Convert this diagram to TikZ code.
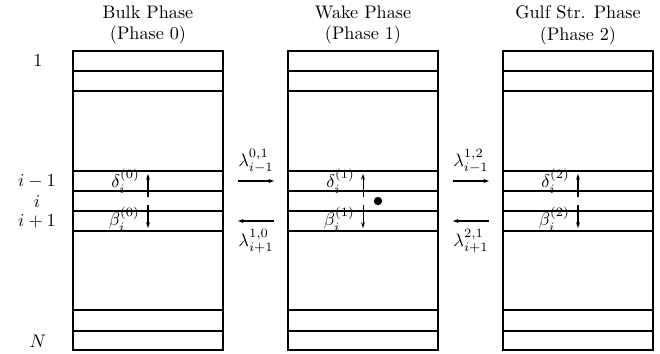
\documentclass[tikz,border=0pt]{standalone}
\usetikzlibrary{arrows.meta}
\begin{document}
\begin{tikzpicture}[x=0.55pt,y=-0.55pt,
  boxline/.style={line width=0.75pt},
  harrow/.style={-{Stealth[length=3pt,width=2.2pt]}, line width=0.7pt},
  varrow/.style={-{Stealth[length=3.2pt,width=2.2pt]}, line width=0.8pt},
  varrowthin/.style={-{Stealth[length=3.2pt,width=2.2pt]}, line width=0.4pt},
  title/.style={align=center, inner sep=0pt},
  lbl/.style={inner sep=0pt},
  rate/.style={inner sep=0pt},
  dotstyle/.style={circle, fill=black, minimum size=4.6pt, inner sep=0pt}]
\useasboundingbox (0,0) rectangle (660,353);

% boxes
\foreach \x/\n in {73/0,288/1,503/2}{
  \draw[boxline] (\x,51) rectangle ++(150,299);
  \foreach \yy in {71,91,171,191,211,231,310,331}
    \draw[boxline] (\x,\yy) -- ++(150,0);
}

% titles
\node[title] (t0) at (148,25) {Bulk Phase\\(Phase 0)};
\node[title] (t1) at (363,25) {Wake Phase\\(Phase 1)};
\node[title] (t2) at (578,25) {Gulf Str. Phase\\(Phase 2)};

% row labels
\node[lbl] (r1) at (38,61) {$1$};
\node[lbl] (rim) at (37,181) {$i-1$};
\node[lbl] (ri) at (37,201) {$i$};
\node[lbl] (rip) at (37,221) {$i+1$};
\node[lbl] (rN) at (38,341) {$N$};

% vertical arrows in each phase
\foreach \c/\n in {148/0,578/2}{
  \coordinate (du\n) at (\c,197);
  \coordinate (dt\n) at (\c,174);
  \coordinate (bu\n) at (\c,205);
  \coordinate (bt\n) at (\c,228);
  \draw[varrow] (du\n) -- (dt\n);
  \draw[varrow] (bu\n) -- (bt\n);
  \node[lbl, anchor=east] (d\n) at (\c-8,181) {$\delta_i^{(\n)}$};
  \node[lbl, anchor=east] (b\n) at (\c-8,219) {$\beta_i^{(\n)}$};
}
\coordinate (du1) at (363,197);
\coordinate (dt1) at (363,174);
\coordinate (bu1) at (363,205);
\coordinate (bt1) at (363,228);
\draw[varrowthin] (du1) -- (dt1);
\draw[varrowthin] (bu1) -- (bt1);
\node[lbl, anchor=east] (d1) at (355,181) {$\delta_i^{(1)}$};
\node[lbl, anchor=east] (b1) at (355,219) {$\beta_i^{(1)}$};
\node[dotstyle] (dot) at (378,201) {};

% horizontal transfer arrows
\coordinate (a01s) at (238,181);
\coordinate (a01e) at (274,181);
\coordinate (a10s) at (274,221);
\coordinate (a10e) at (238,221);
\draw[harrow] (a01s) -- (a01e);
\draw[harrow] (a10s) -- (a10e);
\node[rate] (l01) at (256,161) {$\lambda_{i-1}^{0,1}$};
\node[rate] (l10) at (256,241) {$\lambda_{i+1}^{1,0}$};

\coordinate (a12s) at (453,181);
\coordinate (a12e) at (489,181);
\coordinate (a21s) at (489,221);
\coordinate (a21e) at (453,221);
\draw[harrow] (a12s) -- (a12e);
\draw[harrow] (a21s) -- (a21e);
\node[rate] (l12) at (471,161) {$\lambda_{i-1}^{1,2}$};
\node[rate] (l21) at (471,241) {$\lambda_{i+1}^{2,1}$};
\end{tikzpicture}
\end{document}
